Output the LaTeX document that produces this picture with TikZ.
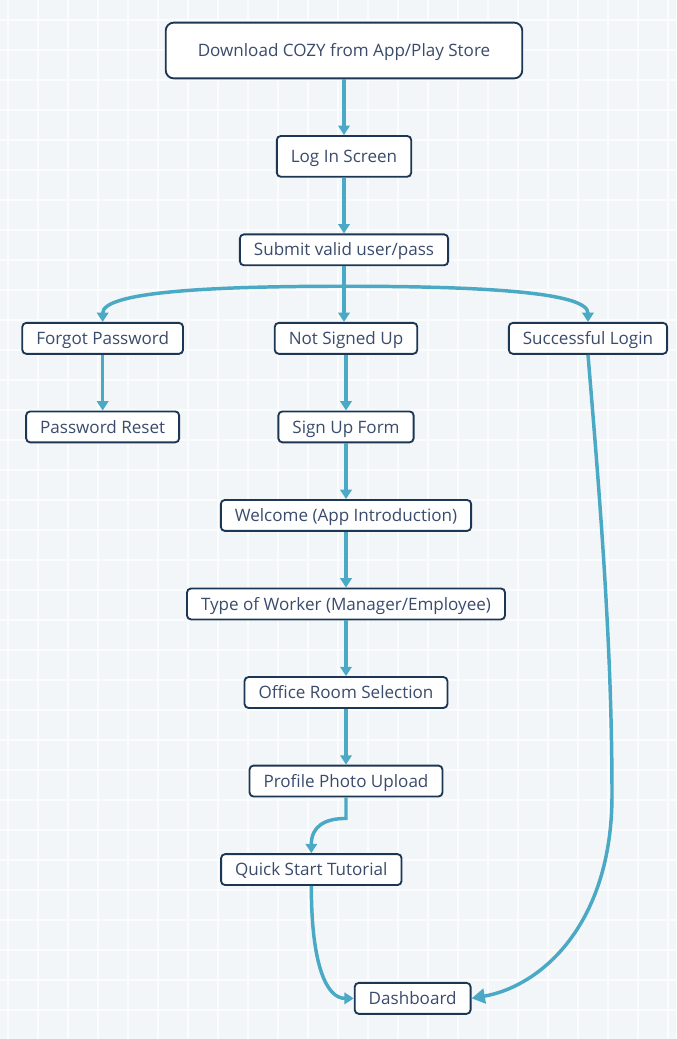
\documentclass[tikz,border=0pt]{standalone}
\usepackage{fontspec}
\setmainfont{Open Sans}
\usepackage{tikz}
\usetikzlibrary{arrows.meta,positioning}

\definecolor{boxline}{HTML}{1C3754}
\definecolor{boxtext}{HTML}{3B4B6B}
\definecolor{wire}{HTML}{4AA9C4}
\definecolor{paper}{HTML}{F3F6F8}
\definecolor{seam}{HTML}{FBFCFD}

\begin{document}
\begin{tikzpicture}[
  x=0.75pt,y=-0.75pt,
  font=\fontsize{12.8}{15}\selectfont,
  node distance=41.8pt,
  box/.style={draw=boxline,line width=1.4pt,rounded corners=3pt,fill=white,
              text=boxtext,inner xsep=10.5pt,inner ysep=0pt,minimum height=23.2pt,
              text height=9.2pt,text depth=0pt},
  flow/.style={draw=wire,line width=2.6pt,-{Triangle[length=7pt,width=8.5pt]}},
  bigflow/.style={flow,-{Triangle[length=10pt,width=11pt]}}]

% tiled backdrop
\useasboundingbox (0,0) rectangle (676,1039);
\fill[paper] (0,0) rectangle (676,1039);
\foreach \gx in {8,38,...,668}
  \draw[seam,line width=0.9pt] (\gx,0) -- (\gx,1039);
\foreach \gy in {20,50,...,1030}
  \draw[seam,line width=0.9pt] (0,\gy) -- (676,\gy);

\node[box,minimum height=41.8pt,inner xsep=24pt,rounded corners=6pt] (dl) at (344,50.5)
     {Download COZY from App/Play Store};
\node[box,minimum height=30.6pt,below=of dl] (login) {Log In Screen};
\node[box,below=of login] (sub) {Submit valid user/pass};
\node[box,below=of sub,xshift=1.5pt] (nsu) {Not Signed Up};
\node[box,below=of sub,xshift=-181pt] (fp) {Forgot Password};
\node[box,below=of sub,xshift=183pt] (sl) {Successful Login};
\node[box,below=of fp] (pr) {Password Reset};
\node[box,below=of nsu] (suf) {Sign Up Form};
\node[box,below=of suf] (wel) {Welcome (App Introduction)};
\node[box,below=of wel] (tow) {Type of Worker (Manager/Employee)};
\node[box,below=of tow] (ors) {Office Room Selection};
\node[box,below=of ors] (ppu) {Profile Photo Upload};
\node[box,below=of ppu,xshift=-26pt] (qst) {Quick Start Tutorial};
\node[box,below=72pt of qst,xshift=76pt] (dash) {Dashboard};

\coordinate (split) at ([yshift=-15pt]sub.south);
\coordinate (swing) at (612,795);

\draw[flow] (dl) -- (login);
\draw[flow] (login) -- (sub);
\draw[flow] (sub.south) -- (sub.south |- nsu.north);
% the three outcomes fan out from one point under the submit box
\draw[flow] (split) .. controls +(-146,0) and +(0,-29) .. (fp.north);
\draw[flow] (split) .. controls +(146,0) and +(0,-29) .. (sl.north);
\draw[flow] (fp) -- (pr);
\draw[flow] (nsu) -- (suf);
\draw[flow] (suf) -- (wel);
\draw[flow] (wel) -- (tow);
\draw[flow] (tow) -- (ors);
\draw[flow] (ors) -- (ppu);
\draw[flow] (ppu.south) -- ++(0,21) .. controls +(-21,0) and +(0,-27) .. (qst.north);
\draw[flow] (qst.south) .. controls +(0,80) and +(-27,0) .. (dash.west);
\draw[bigflow] (sl.south) .. controls +(12,145) and +(0,-150) .. (swing)
               .. controls +(0,130) and +(69,-12) .. (dash.east);
\end{tikzpicture}
\end{document}
